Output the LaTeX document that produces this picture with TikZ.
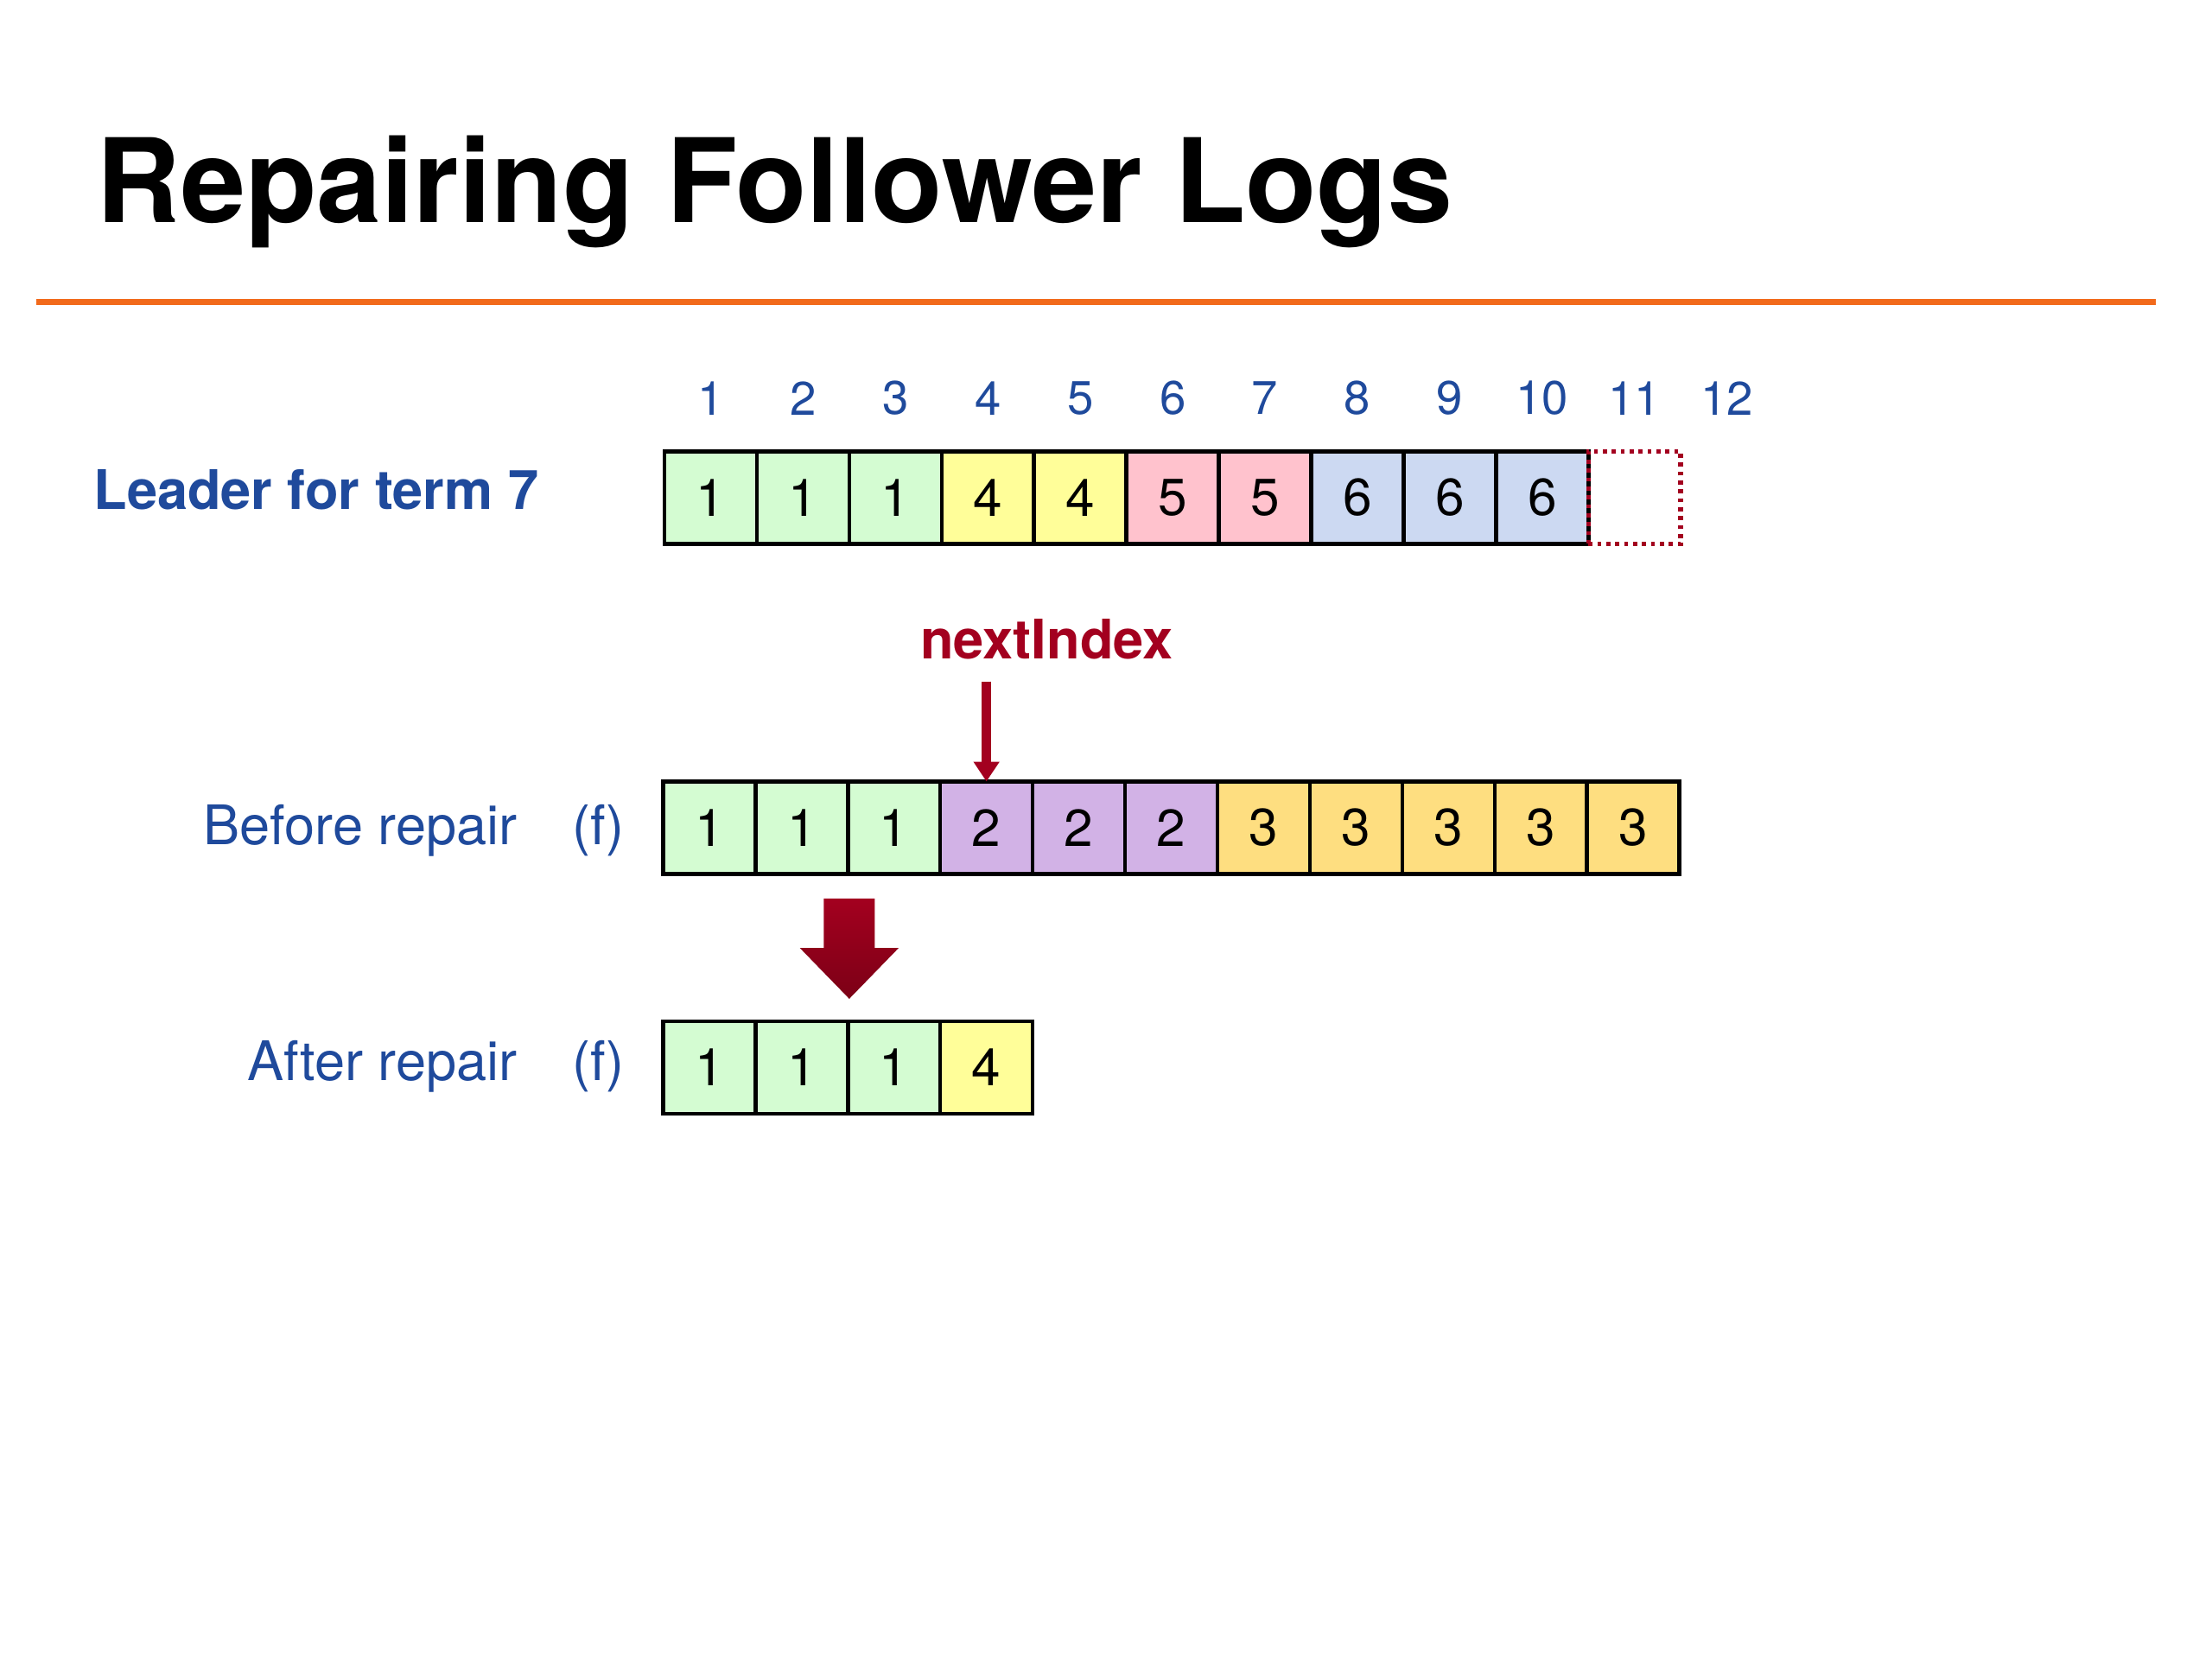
\documentclass[tikz,border=0pt]{standalone}
\usepackage{fontspec}
\setmainfont{TeX Gyre Heros}
\usetikzlibrary{calc, positioning}
\usetikzlibrary{arrows.meta}

\definecolor{slideblue}{HTML}{1F4A9C}
\definecolor{slidered}{HTML}{A3001F}
\definecolor{darkred}{HTML}{7C0016}
\definecolor{ruleorange}{HTML}{F26A1B}
\definecolor{term1}{HTML}{D4FCD2}
\definecolor{term2}{HTML}{D2B2E6}
\definecolor{term3}{HTML}{FEDE80}
\definecolor{term4}{HTML}{FFFE99}
\definecolor{term5}{HTML}{FFC2CD}
\definecolor{term6}{HTML}{CCD9F2}

\begin{document}
\begin{tikzpicture}[
  cell/.style={draw=black, line width=0.8pt, minimum width=\w cm, minimum height=\w cm,
    inner sep=0pt, outer sep=0pt, font=\fontsize{10.5}{12}\selectfont},
  idx/.style={text=slideblue, font=\fontsize{9.5}{11}\selectfont},
  lbl/.style={text=slideblue, font=\fontsize{11}{13}\selectfont},
]
\def\w{0.655}
\useasboundingbox (0,0) rectangle (15.68,-11.76);

\coordinate (LL) at (4.71,-3.20);
\coordinate (BB) at (4.70,-5.54);
\coordinate (AA) at (4.70,-7.24);

\node[anchor=base west, font=\fontsize{23.5}{28}\selectfont\bfseries] (title) at (0.56,-1.58) {Repairing Follower Logs};
\draw[ruleorange, line width=1.1pt] (0.26,-2.14) -- (15.28,-2.14);

% leader log
\node[cell, fill=term1, anchor=north west] (L1) at (LL) {1};
\foreach \t [count=\i from 2, remember=\i as \p (initially 1)] in {1,1,4,4,5,5,6,6,6}
  \node[cell, fill=term\t, right=0pt of L\p] (L\i) {\t};
\node[cell, draw=slidered, densely dotted, line width=1pt, right=0pt of L10] (L11) {};
\coordinate (L12) at ($(L11)+(\w,0)$);
\foreach \i in {1,...,12}
  \node[idx] (I\i) at ($(L\i)+(0,0.705)$) {\i};

% follower before
\node[cell, fill=term1, anchor=north west] (B1) at (BB) {1};
\foreach \t [count=\i from 2, remember=\i as \p (initially 1)] in {1,1,2,2,2,3,3,3,3,3}
  \node[cell, fill=term\t, right=0pt of B\p] (B\i) {\t};

% follower after
\node[cell, fill=term1, anchor=north west] (A1) at (AA) {1};
\foreach \t [count=\i from 2, remember=\i as \p (initially 1)] in {1,1,4}
  \node[cell, fill=term\t, right=0pt of A\p] (A\i) {\t};

\node[lbl, anchor=west, font=\fontsize{11}{13}\selectfont\bfseries] (leader) at (0.54,-3.47) {Leader for term 7};
\node[lbl, anchor=base east] (before) at (3.79,-5.99) {Before repair};
\node[lbl, anchor=base] (fb) at (4.24,-5.99) {(f)};
\node[lbl, anchor=base east] (after) at (3.79,-7.66) {After repair};
\node[lbl, anchor=base] (fa) at (4.24,-7.66) {(f)};

\node[text=slidered, font=\fontsize{11}{13}\selectfont\bfseries] (next) at (7.42,-4.53) {nextIndex};
\coordinate (nexttop) at ($(B4.north)+(0,0.71)$);
\draw[slidered, line width=2pt, -{Triangle[width=5pt, length=4pt]}] (nexttop) -- (B4.north);

\shade[top color=slidered, bottom color=darkred]
  (5.84,-6.37) -- (6.20,-6.37) -- (6.20,-6.72) -- (6.37,-6.72) -- (6.02,-7.08)
  -- (5.67,-6.72) -- (5.84,-6.72) -- cycle;
\end{tikzpicture}
\end{document}
